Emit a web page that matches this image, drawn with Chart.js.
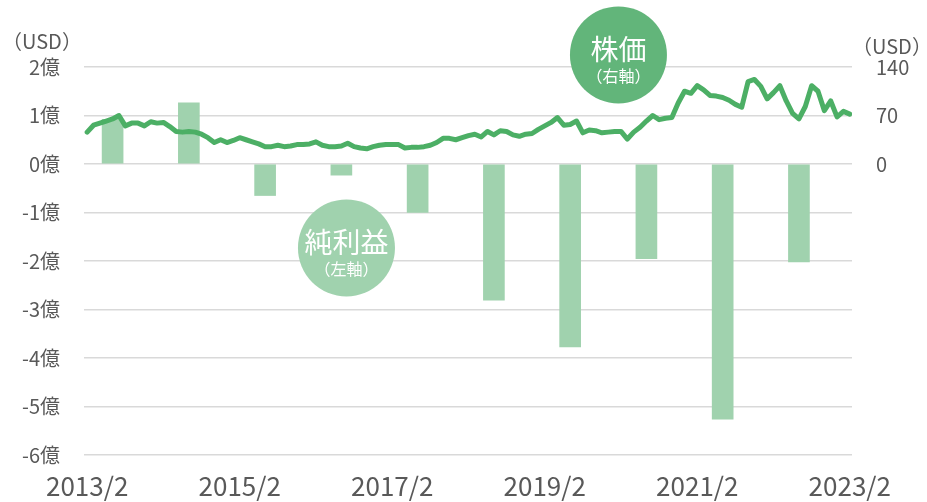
<!DOCTYPE html>
<html>
<head>
<meta charset="utf-8">
<script src="https://cdn.jsdelivr.net/npm/chart.js@4/dist/chart.umd.min.js"></script>
<style>
  html, body { margin: 0; padding: 0; background: #ffffff; }
  #wrap { position: relative; width: 927px; height: 502px; }
</style>
</head>
<body>
<div id="wrap"><canvas id="c" width="927" height="502"></canvas></div>
<script>
// ---- Data (months counted from 2013/2 = 0) ----
const tickMonths = [0, 24, 48, 72, 96, 120];
const tickLabels = ["2013/2", "2015/2", "2017/2", "2019/2", "2021/2", "2023/2"];

// Net income (億 USD), annual
const barMonths = [4, 16, 28, 40, 52, 64, 76, 88, 100, 112];
const netIncome = [0.92, 1.26, -0.65, -0.23, -1.0, -2.81, -3.77, -1.95, -5.26, -2.02];

// Monthly stock price (USD), 2013/2 .. 2023/2
const priceValues = [
  46, 56, 59, 62, 65, 70, 55, 59, 59, 55, 61, 59,
  60, 54, 47, 46, 47, 46, 43, 38, 31, 35, 31, 34,
  38, 35, 32, 29, 25, 25, 27, 25, 26, 28, 28, 29,
  32, 27, 25, 25, 26, 30, 25, 23, 22, 25, 27, 28,
  28, 28, 23, 24, 24, 25, 27, 31, 37, 37, 35, 38,
  41, 43, 39, 47, 42, 48, 47, 42, 40, 43, 44, 50,
  55, 60, 67, 56, 57, 62, 45, 49, 48, 45, 46, 47,
  47, 36, 46, 53, 62, 70, 64, 66, 67, 88, 105, 102,
  113, 107, 99, 98, 96, 92, 86, 82, 119, 122, 112, 94,
  103, 113, 91, 73, 65, 83, 113, 105, 77, 91, 68, 76,
  72
];

const leftTicks = [-6, -5, -4, -3, -2, -1, 0, 1, 2];
const rightTicks = [0, 70, 140];

// Annotation bubbles (data coordinates: month, left-axis value)
const bubbles = [
  { title: "株価", sub: "（右軸）", month: 83.6, value: 2.25, color: "#62b57a" },
  { title: "純利益", sub: "（左軸）", month: 40.8, value: -1.73, color: "#a0d2ae" }
];

const FONT = "'Noto Sans CJK JP', 'Noto Sans', sans-serif";
const TXT = "#595959";

const barData = barMonths.map((m, i) => ({ x: m, y: netIncome[i] }));
const lineData = priceValues.map((v, i) => ({ x: i, y: v }));

const overlay = {
  id: "overlay",
  afterDraw(chart) {
    const ctx = chart.ctx;
    const xs = chart.scales.x, ys = chart.scales.y;
    ctx.save();
    // axis unit labels
    ctx.fillStyle = TXT;
    ctx.font = "20px " + FONT;
    ctx.textBaseline = "middle";
    ctx.textAlign = "left";
    ctx.fillText("（USD）", 2, 41);
    ctx.fillText("（USD）", 852, 46);
    // bubbles
    bubbles.forEach(b => {
      const cx = xs.getPixelForValue(b.month);
      const cy = ys.getPixelForValue(b.value);
      ctx.beginPath();
      ctx.arc(cx, cy, 48.5, 0, Math.PI * 2);
      ctx.fillStyle = b.color;
      ctx.fill();
      ctx.fillStyle = "#ffffff";
      ctx.textAlign = "center";
      ctx.textBaseline = "middle";
      ctx.font = "28px " + FONT;
      ctx.fillText(b.title, cx, cy - 6);
      ctx.font = "16px " + FONT;
      ctx.fillText(b.sub, cx, cy + 21);
    });
    ctx.restore();
  }
};

new Chart(document.getElementById("c"), {
  data: {
    datasets: [
      {
        type: "line",
        label: "株価",
        data: lineData,
        yAxisID: "y2",
        borderColor: "#4caf65",
        borderWidth: 5,
        pointRadius: 0,
        tension: 0,
        borderJoinStyle: "round",
        borderCapStyle: "round",
        order: 0
      },
      {
        type: "bar",
        label: "純利益",
        data: barData,
        yAxisID: "y",
        backgroundColor: "#a0d2ae",
        barThickness: 21,
        order: 1
      }
    ]
  },
  options: {
    responsive: false,
    animation: false,
    layout: { padding: { top: 67, left: 0, right: 0, bottom: 0 } },
    plugins: { legend: { display: false }, tooltip: { enabled: false } },
    scales: {
      x: {
        type: "linear",
        offset: false,
        min: -0.5,
        max: 120.35,
        grid: { display: false, offset: false },
        border: { display: false },
        afterBuildTicks: s => { s.ticks = tickMonths.map(v => ({ value: v })); },
        afterFit: s => { s.height = 47; },
        ticks: {
          autoSkip: false,
          maxRotation: 0,
          padding: 8,
          color: TXT,
          font: { family: FONT, size: 26 },
          callback: v => tickLabels[tickMonths.indexOf(v)]
        }
      },
      y: {
        position: "left",
        min: -6,
        max: 2,
        afterBuildTicks: s => { s.ticks = leftTicks.map(v => ({ value: v })); },
        afterFit: s => { s.width = 84; },
        grid: { color: "#d9d9d9", lineWidth: 1.5, drawTicks: false },
        border: { display: false },
        ticks: {
          padding: 24,
          color: TXT,
          font: { family: FONT, size: 20 },
          callback: v => v + "億"
        }
      },
      y2: {
        position: "right",
        min: -420,
        max: 140,
        afterBuildTicks: s => { s.ticks = rightTicks.map(v => ({ value: v })); },
        afterFit: s => { s.width = 75; },
        grid: { display: false, drawTicks: false },
        border: { display: false },
        ticks: {
          padding: 24,
          color: TXT,
          font: { family: FONT, size: 20 },
          callback: v => String(v)
        }
      }
    }
  },
  plugins: [overlay]
});
</script>
</body>
</html>
